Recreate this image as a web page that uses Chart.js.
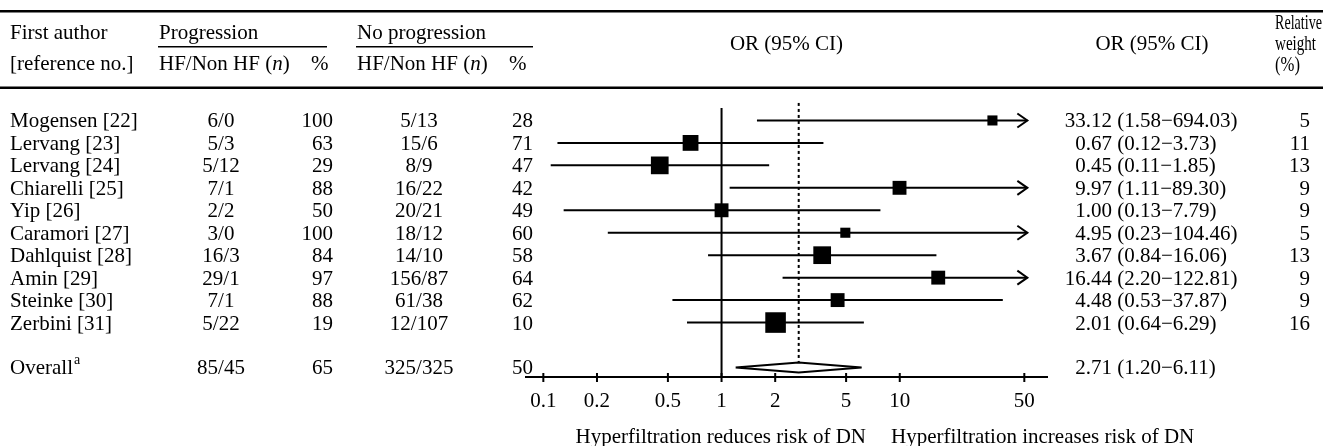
<!DOCTYPE html>
<html>
<head>
<meta charset="utf-8">
<script src="https://cdn.jsdelivr.net/npm/chart.js@4.4.1/dist/chart.umd.min.js"></script>
<style>
  html, body { margin: 0; padding: 0; background: #fff; }
  canvas { display: block; }
</style>
</head>
<body>
<canvas id="forest" width="1323" height="446"></canvas>
<script>
// Estudos (uma linha por estudo)
const authors = ['Mogensen [22]', 'Lervang [23]', 'Lervang [24]', 'Chiarelli [25]', 'Yip [26]',
                 'Caramori [27]', 'Dahlquist [28]', 'Amin [29]', 'Steinke [30]', 'Zerbini [31]'];
const progCounts = ['6/0', '5/3', '5/12', '7/1', '2/2', '3/0', '16/3', '29/1', '7/1', '5/22'];
const progPct = [100, 63, 29, 88, 50, 100, 84, 97, 88, 19];
const noProgCounts = ['5/13', '15/6', '8/9', '16/22', '20/21', '18/12', '14/10', '156/87', '61/38', '12/107'];
const noProgPct = [28, 71, 47, 42, 49, 60, 58, 64, 62, 10];
const oddsRatios = [33.12, 0.67, 0.45, 9.97, 1.00, 4.95, 3.67, 16.44, 4.48, 2.01];
const ciLow = [1.58, 0.12, 0.11, 1.11, 0.13, 0.23, 0.84, 2.20, 0.53, 0.64];
const ciHigh = [694.03, 3.73, 1.85, 89.30, 7.79, 104.46, 16.06, 122.81, 37.87, 6.29];
const weights = [5, 11, 13, 9, 9, 5, 13, 9, 9, 16];

// Resultado combinado
const overallProg = '85/45';
const overallProgPct = 65;
const overallNoProg = '325/325';
const overallNoProgPct = 50;
const overallOR = 2.71;
const overallLow = 1.20;
const overallHigh = 6.11;

// Eixo x
const xTicks = [0.1, 0.2, 0.5, 1, 2, 5, 10, 50];
const xTickLabels = ['0.1', '0.2', '0.5', '1', '2', '5', '10', '50'];

const FONT = '"Liberation Serif", "Times New Roman", serif';
const FONT_SIZE = 21;
const ARROW_CAP = 52;      // intervalos maiores são cortados aqui com uma seta
const OVERALL_ROW = 11;
const Y_MIN = -1.49;
const Y_MAX = 11.425;

function boxSide(w) {
    return 5.3 + 0.955 * w;
}

function fmt(v) {
    return v.toFixed(2);
}

// Linhas dos intervalos de confiança
const ciDatasets = oddsRatios.map(function(v, i) {
    return {
        data: [{ x: ciLow[i], y: i }, { x: Math.min(ciHigh[i], ARROW_CAP), y: i }],
        showLine: true,
        borderColor: '#000',
        borderWidth: 2,
        pointRadius: 0,
        order: 2
    };
});

const datasets = [
    {
        // quadrados (tamanho pelo peso)
        data: oddsRatios.map(function(v, i) { return { x: v, y: i }; }),
        pointStyle: 'rect',
        pointRadius: function(ctx) { return boxSide(weights[ctx.dataIndex]) / Math.SQRT2; },
        backgroundColor: '#000',
        borderWidth: 0,
        order: 0
    },
    {
        // losango do efeito combinado
        data: [
            { x: overallLow, y: OVERALL_ROW },
            { x: overallOR, y: OVERALL_ROW - 0.22 },
            { x: overallHigh, y: OVERALL_ROW },
            { x: overallOR, y: OVERALL_ROW + 0.22 },
            { x: overallLow, y: OVERALL_ROW }
        ],
        showLine: true,
        borderColor: '#000',
        borderWidth: 2,
        pointRadius: 0,
        order: 1
    },
    {
        // linha de nulidade (OR = 1)
        data: [{ x: 1, y: -0.55 }, { x: 1, y: Y_MAX }],
        showLine: true,
        borderColor: '#000',
        borderWidth: 2,
        pointRadius: 0,
        order: 3
    },
    {
        // linha pontilhada no OR combinado
        data: [{ x: overallOR, y: -0.78 }, { x: overallOR, y: OVERALL_ROW - 0.22 }],
        showLine: true,
        borderColor: '#000',
        borderWidth: 2,
        borderDash: [3, 3],
        pointRadius: 0,
        order: 3
    }
].concat(ciDatasets);

// Tabela, cabeçalho, setas e eixo desenhados por cima
const tablePlugin = {
    id: 'forestTable',
    afterDraw: function(chart) {
        const ctx = chart.ctx;
        const xs = chart.scales.x;
        const ys = chart.scales.y;
        const font = FONT_SIZE + 'px ' + FONT;

        ctx.save();
        ctx.fillStyle = '#000';
        ctx.strokeStyle = '#000';

        // réguas do cabeçalho
        ctx.fillRect(0, 10, 1323, 2.5);
        ctx.fillRect(0, 86.5, 1323, 2.5);
        ctx.fillRect(158, 46, 169, 1.5);
        ctx.fillRect(356, 46, 177, 1.5);

        ctx.font = font;
        ctx.textBaseline = 'alphabetic';
        ctx.textAlign = 'left';
        ctx.fillText('First author', 10, 39);
        ctx.fillText('[reference no.]', 10, 70);
        ctx.fillText('Progression', 159, 39);
        ctx.fillText('No progression', 357, 39);

        function hfHeader(x) {
            ctx.font = font;
            ctx.fillText('HF/Non HF (', x, 70);
            let w = ctx.measureText('HF/Non HF (').width;
            ctx.font = 'italic ' + font;
            ctx.fillText('n', x + w, 70);
            w += ctx.measureText('n').width;
            ctx.font = font;
            ctx.fillText(')', x + w, 70);
        }
        hfHeader(159);
        hfHeader(357);
        ctx.fillText('%', 311, 70);
        ctx.fillText('%', 509, 70);

        ctx.textAlign = 'center';
        ctx.fillText('OR (95% CI)', (chart.chartArea.left + chart.chartArea.right) / 2, 49.5);
        ctx.fillText('OR (95% CI)', 1152, 49.5);
        // coluna estreita: texto condensado
        ctx.textAlign = 'left';
        ctx.fillText('Relative', 1275, 29, 47);
        ctx.fillText('weight', 1275, 50, 41);
        ctx.fillText('(%)', 1275, 71, 25);

        // linhas dos estudos
        function row(y, name, pc, pp, nc, np, orText, ciText, weight) {
            const base = y + 7;
            ctx.font = font;
            ctx.textAlign = 'left';
            ctx.fillText(name, 10, base);
            ctx.textAlign = 'center';
            ctx.fillText(pc, 221, base);
            ctx.fillText(nc, 419, base);
            ctx.textAlign = 'right';
            ctx.fillText(String(pp), 333, base);
            ctx.fillText(String(np), 533, base);
            ctx.fillText(orText, 1112, base);
            ctx.textAlign = 'left';
            ctx.fillText(ciText, 1112, base);
            if (weight !== null) {
                ctx.textAlign = 'right';
                ctx.fillText(String(weight), 1310, base);
            }
        }

        authors.forEach(function(name, i) {
            row(ys.getPixelForValue(i), name, progCounts[i], progPct[i], noProgCounts[i], noProgPct[i],
                fmt(oddsRatios[i]), ' (' + fmt(ciLow[i]) + '\u2212' + fmt(ciHigh[i]) + ')', weights[i]);
        });

        const oy = ys.getPixelForValue(OVERALL_ROW);
        row(oy, 'Overall', overallProg, overallProgPct, overallNoProg, overallNoProgPct,
            fmt(overallOR), ' (' + fmt(overallLow) + '\u2212' + fmt(overallHigh) + ')', null);
        ctx.font = font;
        const ow = ctx.measureText('Overall').width;
        ctx.font = '14px ' + FONT;
        ctx.textAlign = 'left';
        ctx.fillText('a', 10 + ow + 1, oy - 3);

        // setas nos intervalos cortados
        ctx.lineWidth = 2;
        ciHigh.forEach(function(h, i) {
            if (h <= ARROW_CAP) return;
            const x = xs.getPixelForValue(ARROW_CAP);
            const y = ys.getPixelForValue(i);
            ctx.beginPath();
            ctx.moveTo(x - 10, y - 7);
            ctx.lineTo(x, y);
            ctx.lineTo(x - 10, y + 7);
            ctx.stroke();
        });

        // eixo x
        const axisY = chart.chartArea.bottom;
        ctx.fillRect(chart.chartArea.left, axisY - 1, chart.chartArea.right - chart.chartArea.left, 2);
        ctx.font = font;
        ctx.textAlign = 'center';
        xTicks.forEach(function(t, i) {
            const x = xs.getPixelForValue(t);
            ctx.fillRect(x - 1, axisY - 4, 2, 9);
            ctx.fillText(xTickLabels[i], x, axisY + 30);
        });

        ctx.textAlign = 'right';
        ctx.fillText('Hyperfiltration reduces risk of DN', 866, 443);
        ctx.textAlign = 'left';
        ctx.fillText('Hyperfiltration increases risk of DN', 891, 443);

        ctx.restore();
    }
};

new Chart(document.getElementById('forest'), {
    type: 'scatter',
    data: { datasets: datasets },
    options: {
        responsive: false,
        animation: false,
        devicePixelRatio: 1,
        layout: { padding: { left: 525, right: 275, top: 87, bottom: 69 } },
        plugins: {
            legend: { display: false },
            tooltip: { enabled: false }
        },
        scales: {
            x: { type: 'logarithmic', min: 0.0789, max: 67.9, bounds: 'data', display: false },
            y: { type: 'linear', min: Y_MIN, max: Y_MAX, reverse: true, display: false }
        }
    },
    plugins: [tablePlugin]
});
</script>
</body>
</html>
